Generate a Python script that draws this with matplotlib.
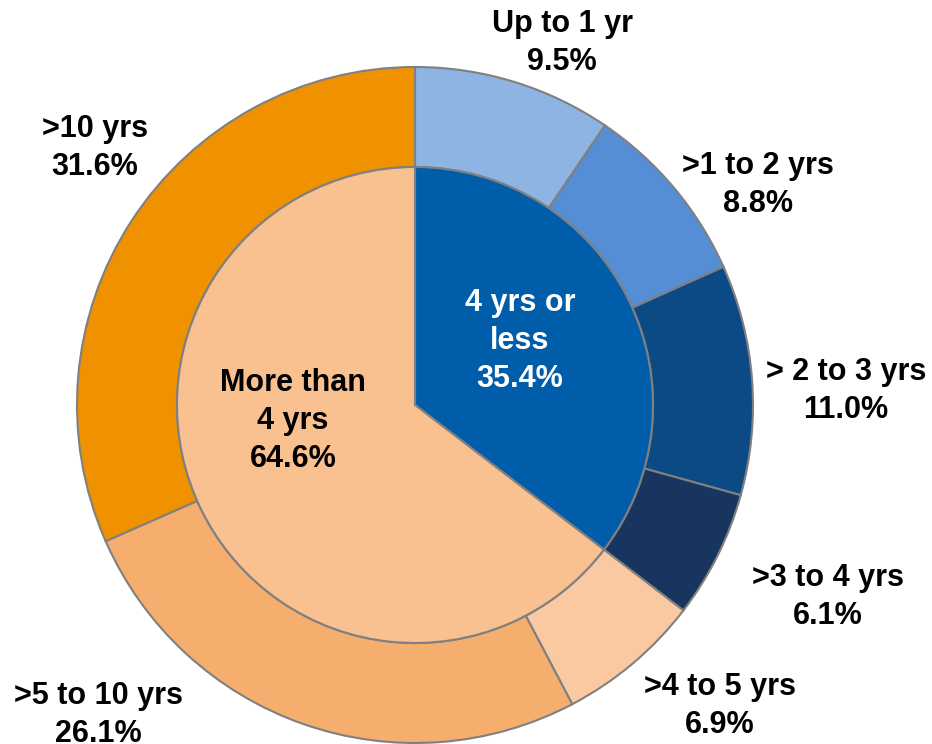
import matplotlib
matplotlib.use("Agg")
import matplotlib.pyplot as plt

# Data
outer_labels = ["Up to 1 yr", ">1 to 2 yrs", "> 2 to 3 yrs", ">3 to 4 yrs",
                ">4 to 5 yrs", ">5 to 10 yrs", ">10 yrs"]
outer_values = [9.5, 8.8, 11.0, 6.1, 6.9, 26.1, 31.6]
inner_labels = ["4 yrs or\nless", "More than\n4 yrs"]
inner_values = [35.4, 64.6]

# Styles
outer_colors = ["#8EB4E3", "#558ED5", "#0C4A85", "#17355E",
                "#FAC9A2", "#F5AE6E", "#F09100"]
inner_colors = ["#005DA9", "#F9C090"]
edge = "#808080"

W, H = 932, 744
fig = plt.figure(figsize=(W / 100, H / 100), dpi=100)
ax = fig.add_axes([0, 0, 1, 1])

cx, cy = 415, H - 405
R_out, R_in = 338, 238

ax.pie(outer_values, colors=outer_colors, startangle=90, counterclock=False,
       radius=R_out, center=(cx, cy), frame=True,
       wedgeprops=dict(width=R_out - R_in, edgecolor=edge, linewidth=1.5))
ax.pie(inner_values, colors=inner_colors, startangle=90, counterclock=False,
       radius=R_in, center=(cx, cy), frame=True,
       wedgeprops=dict(edgecolor=edge, linewidth=1.5))
ax.set_xlim(0, W)
ax.set_ylim(0, H)
ax.set_aspect("equal")
ax.axis("off")

font = dict(family=["Liberation Sans", "DejaVu Sans"], fontweight="bold",
            fontsize=22, ha="center", va="center", linespacing=1.33)

outer_pos = [(562, 43), (758, 185), (846, 391), (828, 597),
             (720, 706), (98, 715), (95, 148)]
for lab, val, (px, py) in zip(outer_labels, outer_values, outer_pos):
    ax.text(px, H - py, f"{lab}\n{val:.1f}%", color="black", **font)

inner_pos = [(520, 341), (293, 421)]
inner_txt_colors = ["white", "black"]
for lab, val, (px, py), c in zip(inner_labels, inner_values, inner_pos, inner_txt_colors):
    ax.text(px, H - py, f"{lab}\n{val:.1f}%", color=c, **font)

fig.savefig("out.png", dpi=100)
